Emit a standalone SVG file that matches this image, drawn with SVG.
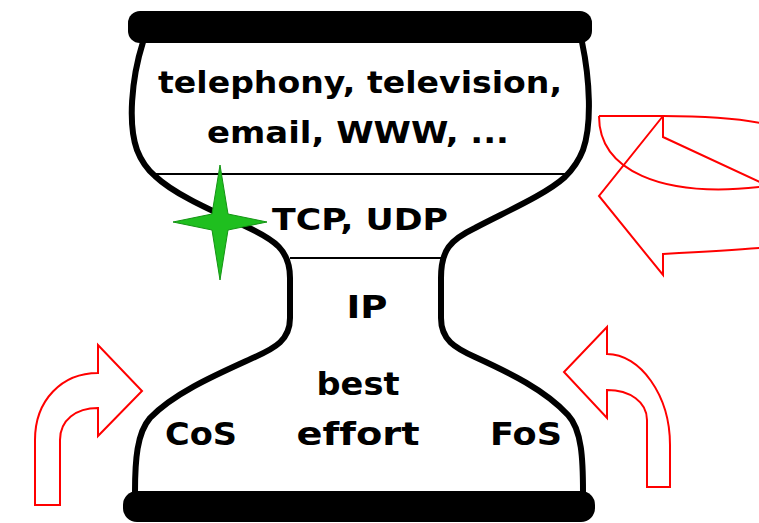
<svg xmlns="http://www.w3.org/2000/svg" width="759" height="523" viewBox="0 0 759 523">
<style>
.t{font-family:"Comic Sans MS","DejaVu Sans","Liberation Sans",sans-serif;font-weight:bold;fill:#000;text-anchor:middle;font-variant-ligatures:none}
.out{fill:none;stroke:#000;stroke-width:6;stroke-linecap:round;stroke-linejoin:round}
.thin{fill:none;stroke:#000;stroke-width:2}
.red{fill:none;stroke:#f00;stroke-width:2;stroke-linejoin:miter}
</style>
<rect width="759" height="523" fill="#fff"/>
<g id="hourglass">
<rect x="128" y="11" width="464" height="32" rx="12" fill="#000"/>
<rect x="123" y="491" width="472" height="31" rx="14" fill="#000"/>
<path class="out" d="M143,42 C131,80 128,125 137,150 C142,163 148,170 155,176 C175,195 215,212 245,226 C275,240 290,250 290,278 L290,318 C290,340 275,348 255,357 C220,373 175,392 150,418 C137,433 135,460 135,492"/>
<path class="out" d="M582,42 C590,80 592,125 583,150 C578,163 572,170 565,177 C545,195 505,212 475,228 C450,240 441,250 441,278 L441,318 C441,340 455,348 475,357 C510,373 545,390 568,415 C582,430 583,460 583,492"/>
<line class="thin" x1="153" y1="174" x2="568" y2="174"/>
<line class="thin" x1="290" y1="258" x2="441" y2="258"/>
</g>
<g id="layer-apps">
<text class="t" x="360" y="93" font-size="31" textLength="404" lengthAdjust="spacingAndGlyphs">telephony, television,</text>
<text class="t" x="358" y="143" font-size="31" textLength="302" lengthAdjust="spacingAndGlyphs">email, WWW, ...</text>
</g>
<g id="layer-transport">
<text class="t" x="360" y="230" font-size="31" textLength="176" lengthAdjust="spacingAndGlyphs">TCP, UDP</text>
</g>
<g id="layer-ip">
<text class="t" x="367" y="318" font-size="32" textLength="41" lengthAdjust="spacingAndGlyphs">IP</text>
<text class="t" x="358" y="395" font-size="32" textLength="83" lengthAdjust="spacingAndGlyphs">best</text>
<text class="t" x="358" y="445" font-size="32" textLength="123" lengthAdjust="spacingAndGlyphs">effort</text>
</g>
<g id="cos"><text class="t" x="201" y="445" font-size="32" textLength="72" lengthAdjust="spacingAndGlyphs">CoS</text></g>
<g id="fos"><text class="t" x="526" y="445" font-size="32" textLength="72" lengthAdjust="spacingAndGlyphs">FoS</text></g>
<g id="star">
<path d="M220,165 L228,214 L267,222 L228,230 L220,280 L212,230 L173,222 L212,214 Z" fill="#1fbf1f" stroke="#149414" stroke-width="1"/>
</g>
<g id="connectors">
<path class="red" d="M35,505 L35,440 C35,400 62,373 98,373 L98,345 L142,391 L98,436 L98,408 C76,408 60,420 60,440 L60,505 Z"/>
<path class="red" d="M670,487 L670,445 C670,395 640,354 607,354 L607,327 L564,372 L607,418 L607,390 C630,390 647,402 647,420 L647,487 Z"/>
<path class="red" d="M599,116 L663,116 C700,116 735,118 760,123"/>
<path class="red" d="M599,116 C599,170 660,198 760,187"/>
<path class="red" d="M663,116 L663,137 L760,182"/>
<path class="red" d="M663,116 L599,196 L663,275 L663,254 C700,252 735,250 760,248"/>
</g>
</svg>
